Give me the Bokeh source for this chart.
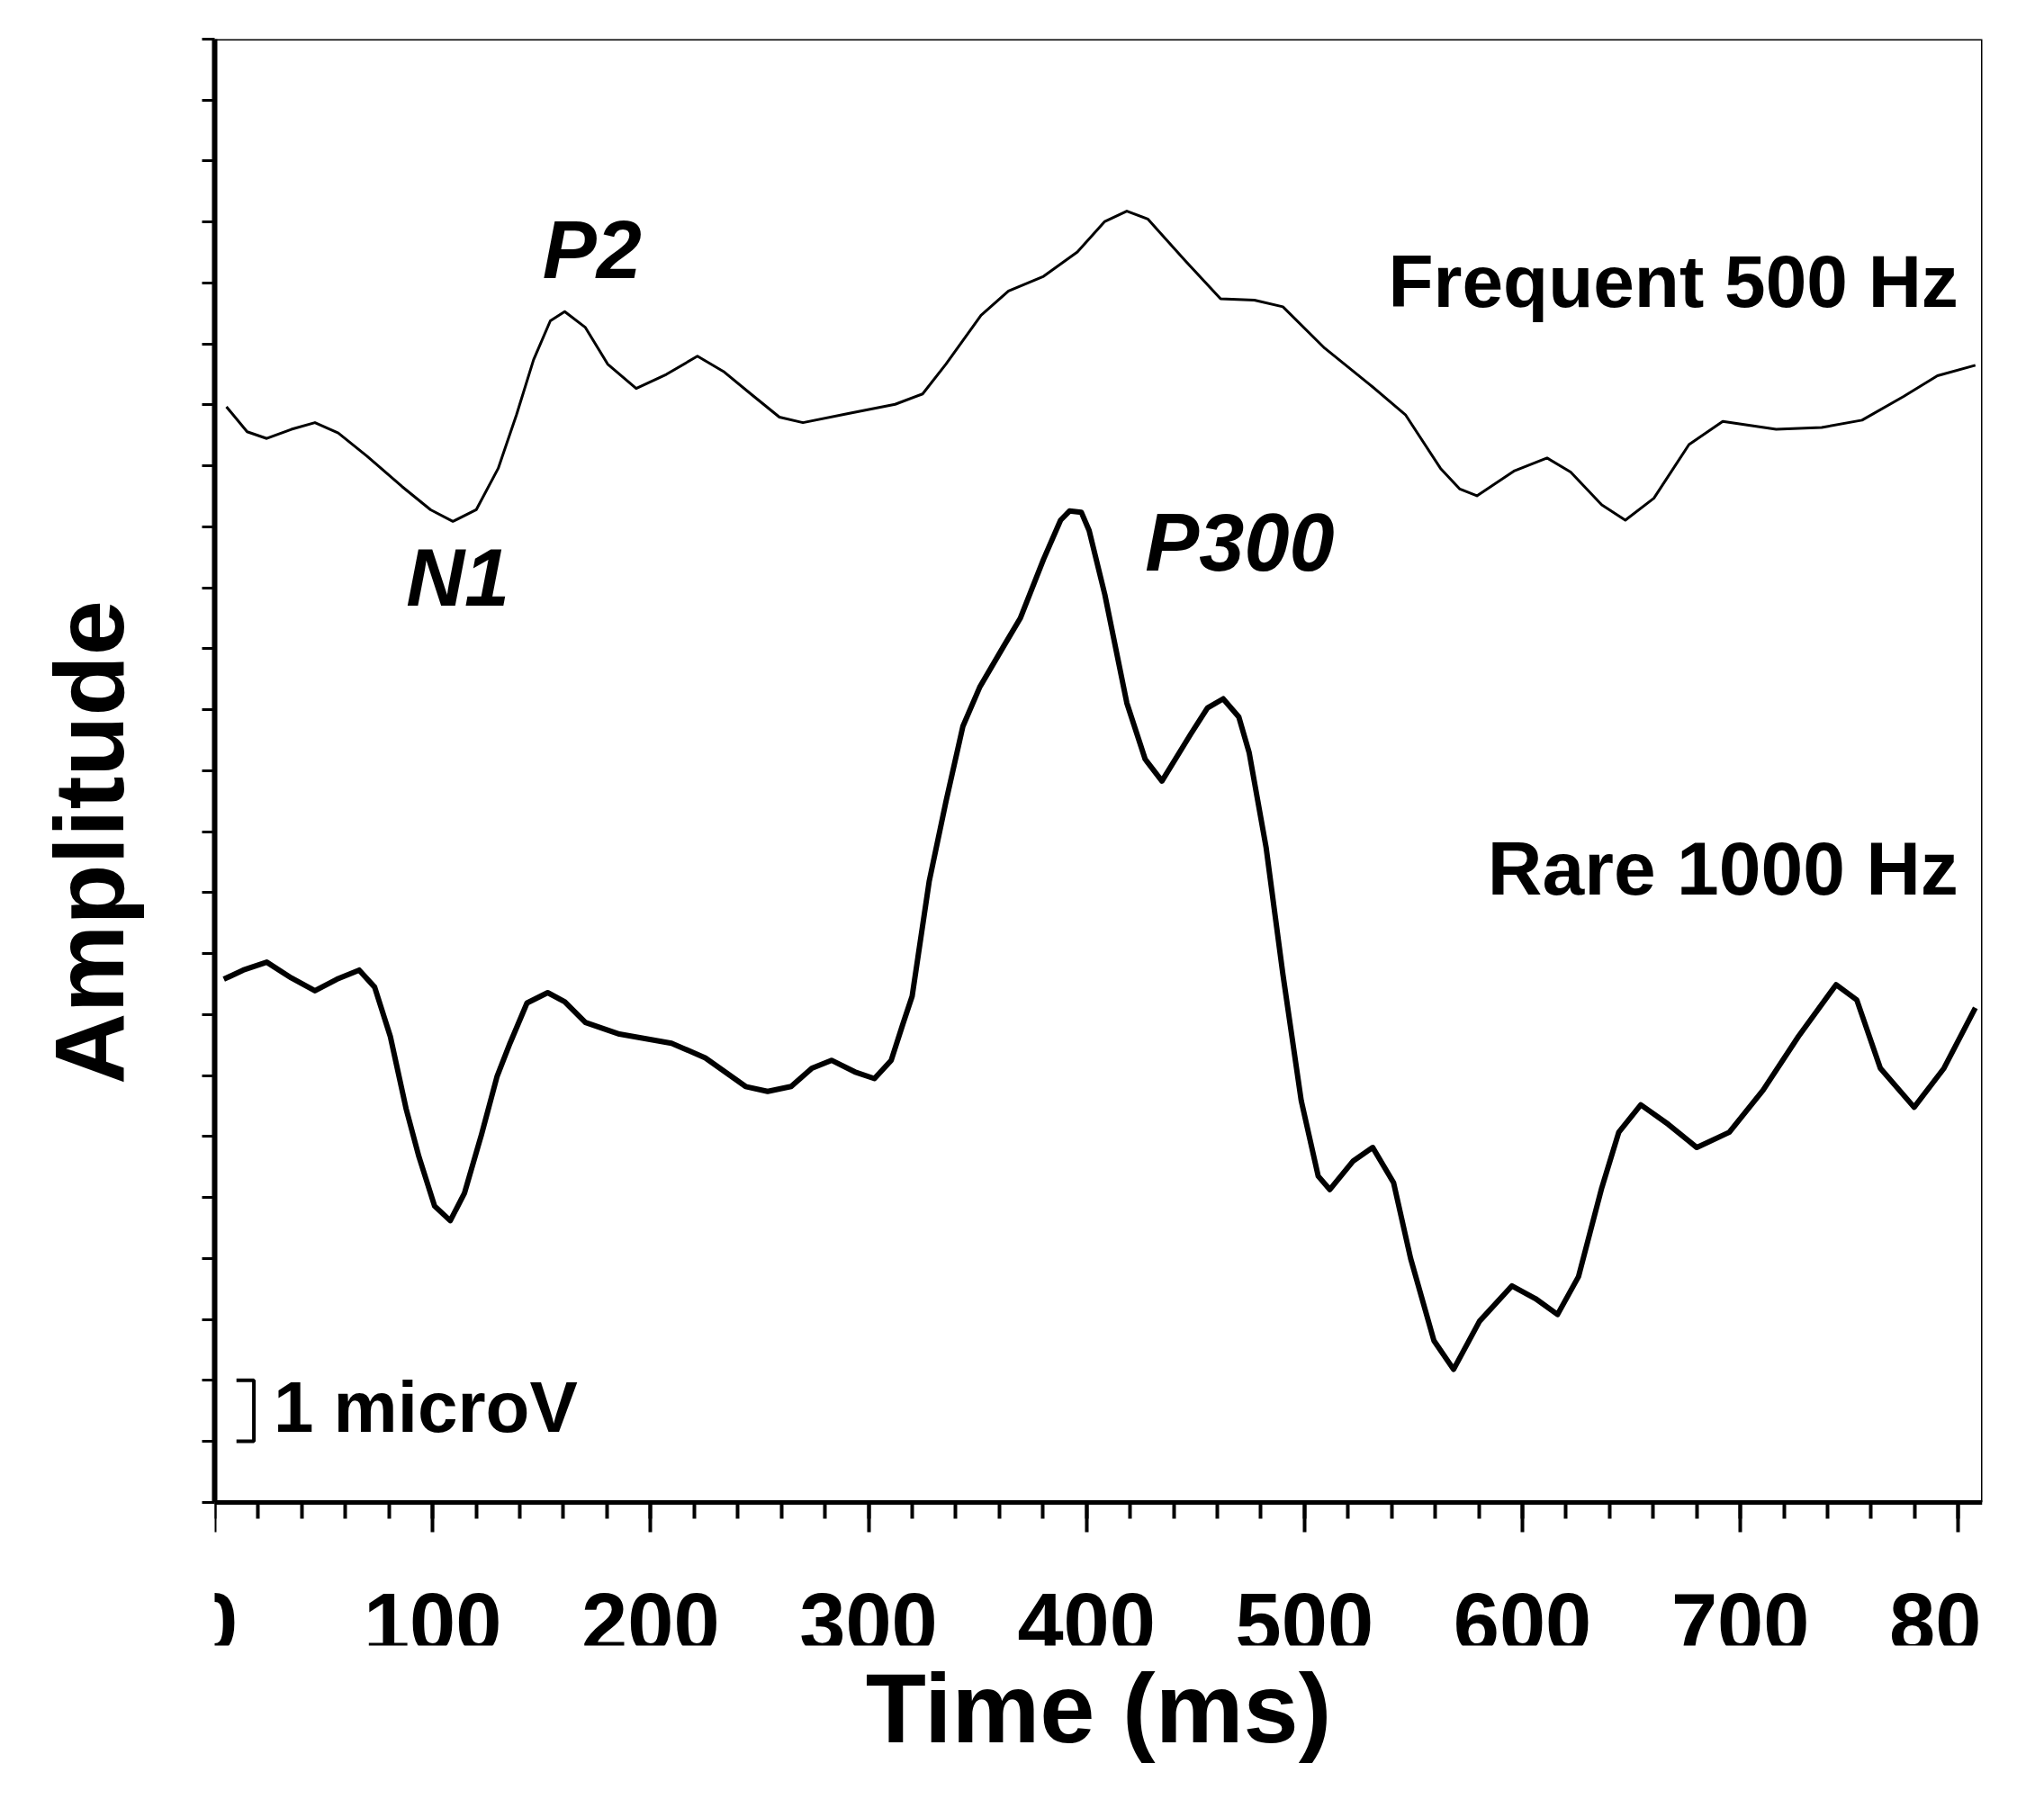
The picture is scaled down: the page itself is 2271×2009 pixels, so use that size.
from bokeh.plotting import figure
from bokeh.models import FixedTicker, Label, Range1d, Title
from bokeh.embed import file_html
from bokeh.resources import INLINE

# ---- data (time in ms, amplitude in microvolts, arbitrary baseline) ----
time_freq = [5.4, 14.9, 23.9, 35.2, 46.0, 56.7, 69.9, 86.0, 99.1, 109.3,
             120.0, 130.1, 138.5, 146.3, 154.0, 160.6, 170.1, 180.3, 193.4, 207.2,
             221.5, 233.4, 246.0, 259.1, 269.9, 290.7, 312.2, 324.8, 335.5, 351.6,
             364.2, 380.3, 395.8, 408.4, 418.5, 428.1, 445.4, 461.5, 477.0, 490.1,
             509.3, 530.1, 546.3, 562.4, 571.3, 579.1, 596.4, 611.3, 622.1, 636.4,
             647.2, 660.3, 676.4, 691.9, 716.4, 737.3, 755.8, 774.9, 790.4, 807.8]
amp_freq = [17.97, 17.56, 17.45, 17.60, 17.71, 17.54, 17.16, 16.66, 16.28, 16.09,
            16.28, 16.96, 17.84, 18.74, 19.38, 19.53, 19.27, 18.67, 18.27, 18.50,
            18.80, 18.55, 18.18, 17.80, 17.71, 17.86, 18.01, 18.18, 18.67, 19.47,
            19.87, 20.11, 20.51, 21.01, 21.18, 21.05, 20.36, 19.74, 19.72, 19.61,
            18.93, 18.33, 17.84, 16.96, 16.62, 16.51, 16.92, 17.13, 16.90, 16.36,
            16.11, 16.47, 17.35, 17.73, 17.60, 17.63, 17.75, 18.14, 18.48, 18.65]

time_rare = [4.2, 13.1, 23.9, 35.2, 46.0, 56.1, 66.3, 73.4, 80.6, 87.8,
             93.7, 100.9, 108.1, 114.6, 122.4, 129.6, 135.5, 143.3, 152.8, 160.6,
             170.1, 185.7, 209.6, 225.1, 243.6, 253.7, 264.5, 274.0, 283.0, 293.7,
             302.7, 310.4, 315.8, 320.0, 327.8, 335.5, 343.3, 351.0, 361.8, 369.6,
             380.3, 388.1, 392.2, 397.6, 401.2, 408.4, 418.5, 426.9, 434.6, 447.8,
             455.5, 462.7, 469.9, 474.6, 482.4, 490.1, 498.5, 506.3, 511.6, 522.4,
             531.3, 540.9, 548.7, 559.4, 568.4, 580.3, 595.2, 606.0, 616.1, 625.7,
             636.4, 644.2, 654.3, 666.9, 680.0, 694.9, 710.4, 726.6, 743.9, 753.4,
             764.2, 779.7, 793.4, 807.8]
amp_rare = [8.58, 8.73, 8.86, 8.60, 8.39, 8.58, 8.73, 8.45, 7.64, 6.46,
            5.67, 4.86, 4.62, 5.07, 6.03, 6.99, 7.53, 8.19, 8.36, 8.21,
            7.87, 7.68, 7.53, 7.29, 6.82, 6.74, 6.82, 7.12, 7.25, 7.06,
            6.95, 7.25, 7.85, 8.30, 10.18, 11.49, 12.73, 13.37, 14.03, 14.50,
            15.47, 16.11, 16.26, 16.24, 15.94, 14.89, 13.11, 12.19, 11.83, 12.60,
            13.03, 13.18, 12.88, 12.30, 10.74, 8.66, 6.59, 5.35, 5.13, 5.60,
            5.82, 5.24, 4.00, 2.65, 2.18, 2.97, 3.55, 3.34, 3.08, 3.70,
            5.16, 6.07, 6.52, 6.20, 5.82, 6.07, 6.76, 7.64, 8.49, 8.24,
            7.12, 6.48, 7.12, 8.11]

x_tick_values = [0, 100, 200, 300, 400, 500, 600, 700, 800]
x_tick_labels = ["0", "100", "200", "300", "400", "500", "600", "700", "800"]
x_minor_step = 20
y_tick_values = list(range(0, 25))

X_MAX = 811.0
Y_MAX = 24.0
Y_MIN = -2.35   # room below the time axis for the tick numbers

scale_bar_base = 1.0      # microvolts
scale_bar_size = 1.0      # 1 microV
scale_bar_x = 18.0        # ms
scale_bar_serif = 8.0     # ms

BOLD = "Liberation Sans"

p = figure(width=2263, height=2008,
           x_range=Range1d(0, X_MAX), y_range=Range1d(Y_MIN, Y_MAX),
           output_backend="svg", toolbar_location=None,
           min_border_left=238, min_border_right=61,
           min_border_top=43, min_border_bottom=180)
p.grid.visible = False
p.outline_line_color = None

# x axis placed at amplitude 0 (numbers drawn as labels below)
xa = p.xaxis[0]
xa.fixed_location = 0
xa.ticker = FixedTicker(ticks=x_tick_values,
                        minor_ticks=list(range(0, 811, x_minor_step)))
xa.axis_line_width = 5
xa.major_tick_line_width = 4
xa.major_tick_in = 0
xa.major_tick_out = 33
xa.minor_tick_line_width = 4
xa.minor_tick_in = 0
xa.minor_tick_out = 18
xa.major_label_text_alpha = 0
xa.major_label_standoff = 5

# y axis (ticks only, no numbers)
ya = p.yaxis[0]
ya.bounds = (0, Y_MAX)
ya.ticker = FixedTicker(ticks=y_tick_values)
ya.axis_line_width = 6
ya.major_tick_line_width = 3
ya.major_tick_in = 0
ya.major_tick_out = 14
ya.minor_tick_out = 0
ya.major_label_text_alpha = 0
ya.major_label_standoff = 0
ya.axis_label = "Amplitude"
ya.axis_label_text_font = BOLD
ya.axis_label_text_font_style = "bold"
ya.axis_label_text_font_size = "110px"
ya.axis_label_text_color = "black"
ya.axis_label_standoff = 65

# top and right border of the box
p.line([0, X_MAX, X_MAX], [Y_MAX, Y_MAX, 0], line_width=3, line_color="black")

# curves
p.line(time_freq, amp_freq, line_width=3, line_color="black", line_join="round")
p.line(time_rare, amp_rare, line_width=6, line_color="black", line_join="round")

# scale bar "]"
sb_top = scale_bar_base + scale_bar_size
p.line([scale_bar_x - scale_bar_serif, scale_bar_x, scale_bar_x, scale_bar_x - scale_bar_serif],
       [sb_top, sb_top, scale_bar_base, scale_bar_base],
       line_width=4, line_color="black")

def lab(x, y, text, size, style="bold", align="left"):
    p.add_layout(Label(x=x, y=y, text=text, text_font=BOLD, text_font_style=style,
                       text_font_size=size, text_color="black",
                       text_align=align))

# x tick numbers
for v, s in zip(x_tick_values, x_tick_labels):
    lab(v, -2.44, s, "92px", "bold", "center")

lab(800.0, 19.36, "Frequent 500 Hz", "82px", "bold", "right")
lab(800.0, 9.70, "Rare 1000 Hz", "84px", "bold", "right")
lab(27.0, 0.90, "1 microV", "80px")
lab(150.4, 19.80, "P2", "90px", "bold italic")
lab(87.8, 14.42, "N1", "90px", "bold italic")
lab(426.9, 15.00, "P300", "90px", "bold italic")

# x axis title
p.add_layout(Title(text="Time (ms)", align="center", text_font=BOLD,
                   text_font_style="bold", text_font_size="110px",
                   text_color="black"), "below")

open("out.html", "w").write(file_html(p, INLINE))
